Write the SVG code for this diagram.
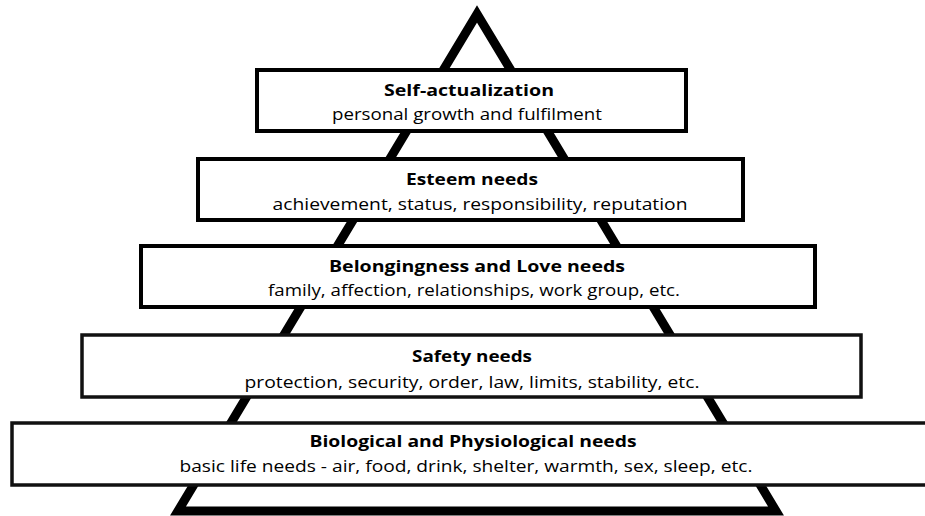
<svg xmlns="http://www.w3.org/2000/svg" width="925" height="516" viewBox="0 0 925 516">
  <style>
    .box { fill: #ffffff; stroke: #000000; stroke-width: 4; }
    .box2 { fill: #ffffff; stroke: #111111; stroke-width: 3.5; }
    .title { font-family: "Open Sans", "Noto Sans", "DejaVu Sans", sans-serif; font-weight: bold; font-size: 15.5px; fill: #000; text-anchor: middle; }
    .sub { font-family: "Open Sans", "Noto Sans", "DejaVu Sans", sans-serif; font-size: 15.5px; fill: #000; text-anchor: middle; }
  </style>
  <rect x="0" y="0" width="925" height="516" fill="#ffffff"/>
  <g id="pyramid">
    <polygon points="477,14 178,511 776,511" fill="none" stroke="#000" stroke-width="9" stroke-linejoin="miter" stroke-miterlimit="10"/>
  </g>
  <g id="self-actualization">
    <rect class="box" x="257" y="70" width="429" height="61"/>
    <text class="title" x="469" y="96" textLength="170" lengthAdjust="spacingAndGlyphs">Self-actualization</text>
    <text class="sub" x="467" y="120" textLength="270" lengthAdjust="spacingAndGlyphs">personal growth and fulfilment</text>
  </g>
  <g id="esteem">
    <rect class="box" x="198" y="159" width="545" height="61"/>
    <text class="title" x="472" y="185" textLength="132" lengthAdjust="spacingAndGlyphs">Esteem needs</text>
    <text class="sub" x="480" y="210" textLength="415" lengthAdjust="spacingAndGlyphs">achievement, status, responsibility, reputation</text>
  </g>
  <g id="belongingness">
    <rect class="box" x="141" y="246" width="674" height="61"/>
    <text class="title" x="477" y="272" textLength="296" lengthAdjust="spacingAndGlyphs">Belongingness and Love needs</text>
    <text class="sub" x="474" y="296" textLength="412" lengthAdjust="spacingAndGlyphs">family, affection, relationships, work group, etc.</text>
  </g>
  <g id="safety">
    <rect class="box2" x="82" y="335" width="779" height="62"/>
    <text class="title" x="472" y="362" textLength="120" lengthAdjust="spacingAndGlyphs">Safety needs</text>
    <text class="sub" x="472" y="388" textLength="455" lengthAdjust="spacingAndGlyphs">protection, security, order, law, limits, stability, etc.</text>
  </g>
  <g id="biological">
    <rect class="box2" x="12" y="423" width="920" height="62"/>
    <text class="title" x="473" y="447" textLength="327" lengthAdjust="spacingAndGlyphs">Biological and Physiological needs</text>
    <text class="sub" x="466" y="472" textLength="573" lengthAdjust="spacingAndGlyphs">basic life needs - air, food, drink, shelter, warmth, sex, sleep, etc.</text>
  </g>
</svg>
